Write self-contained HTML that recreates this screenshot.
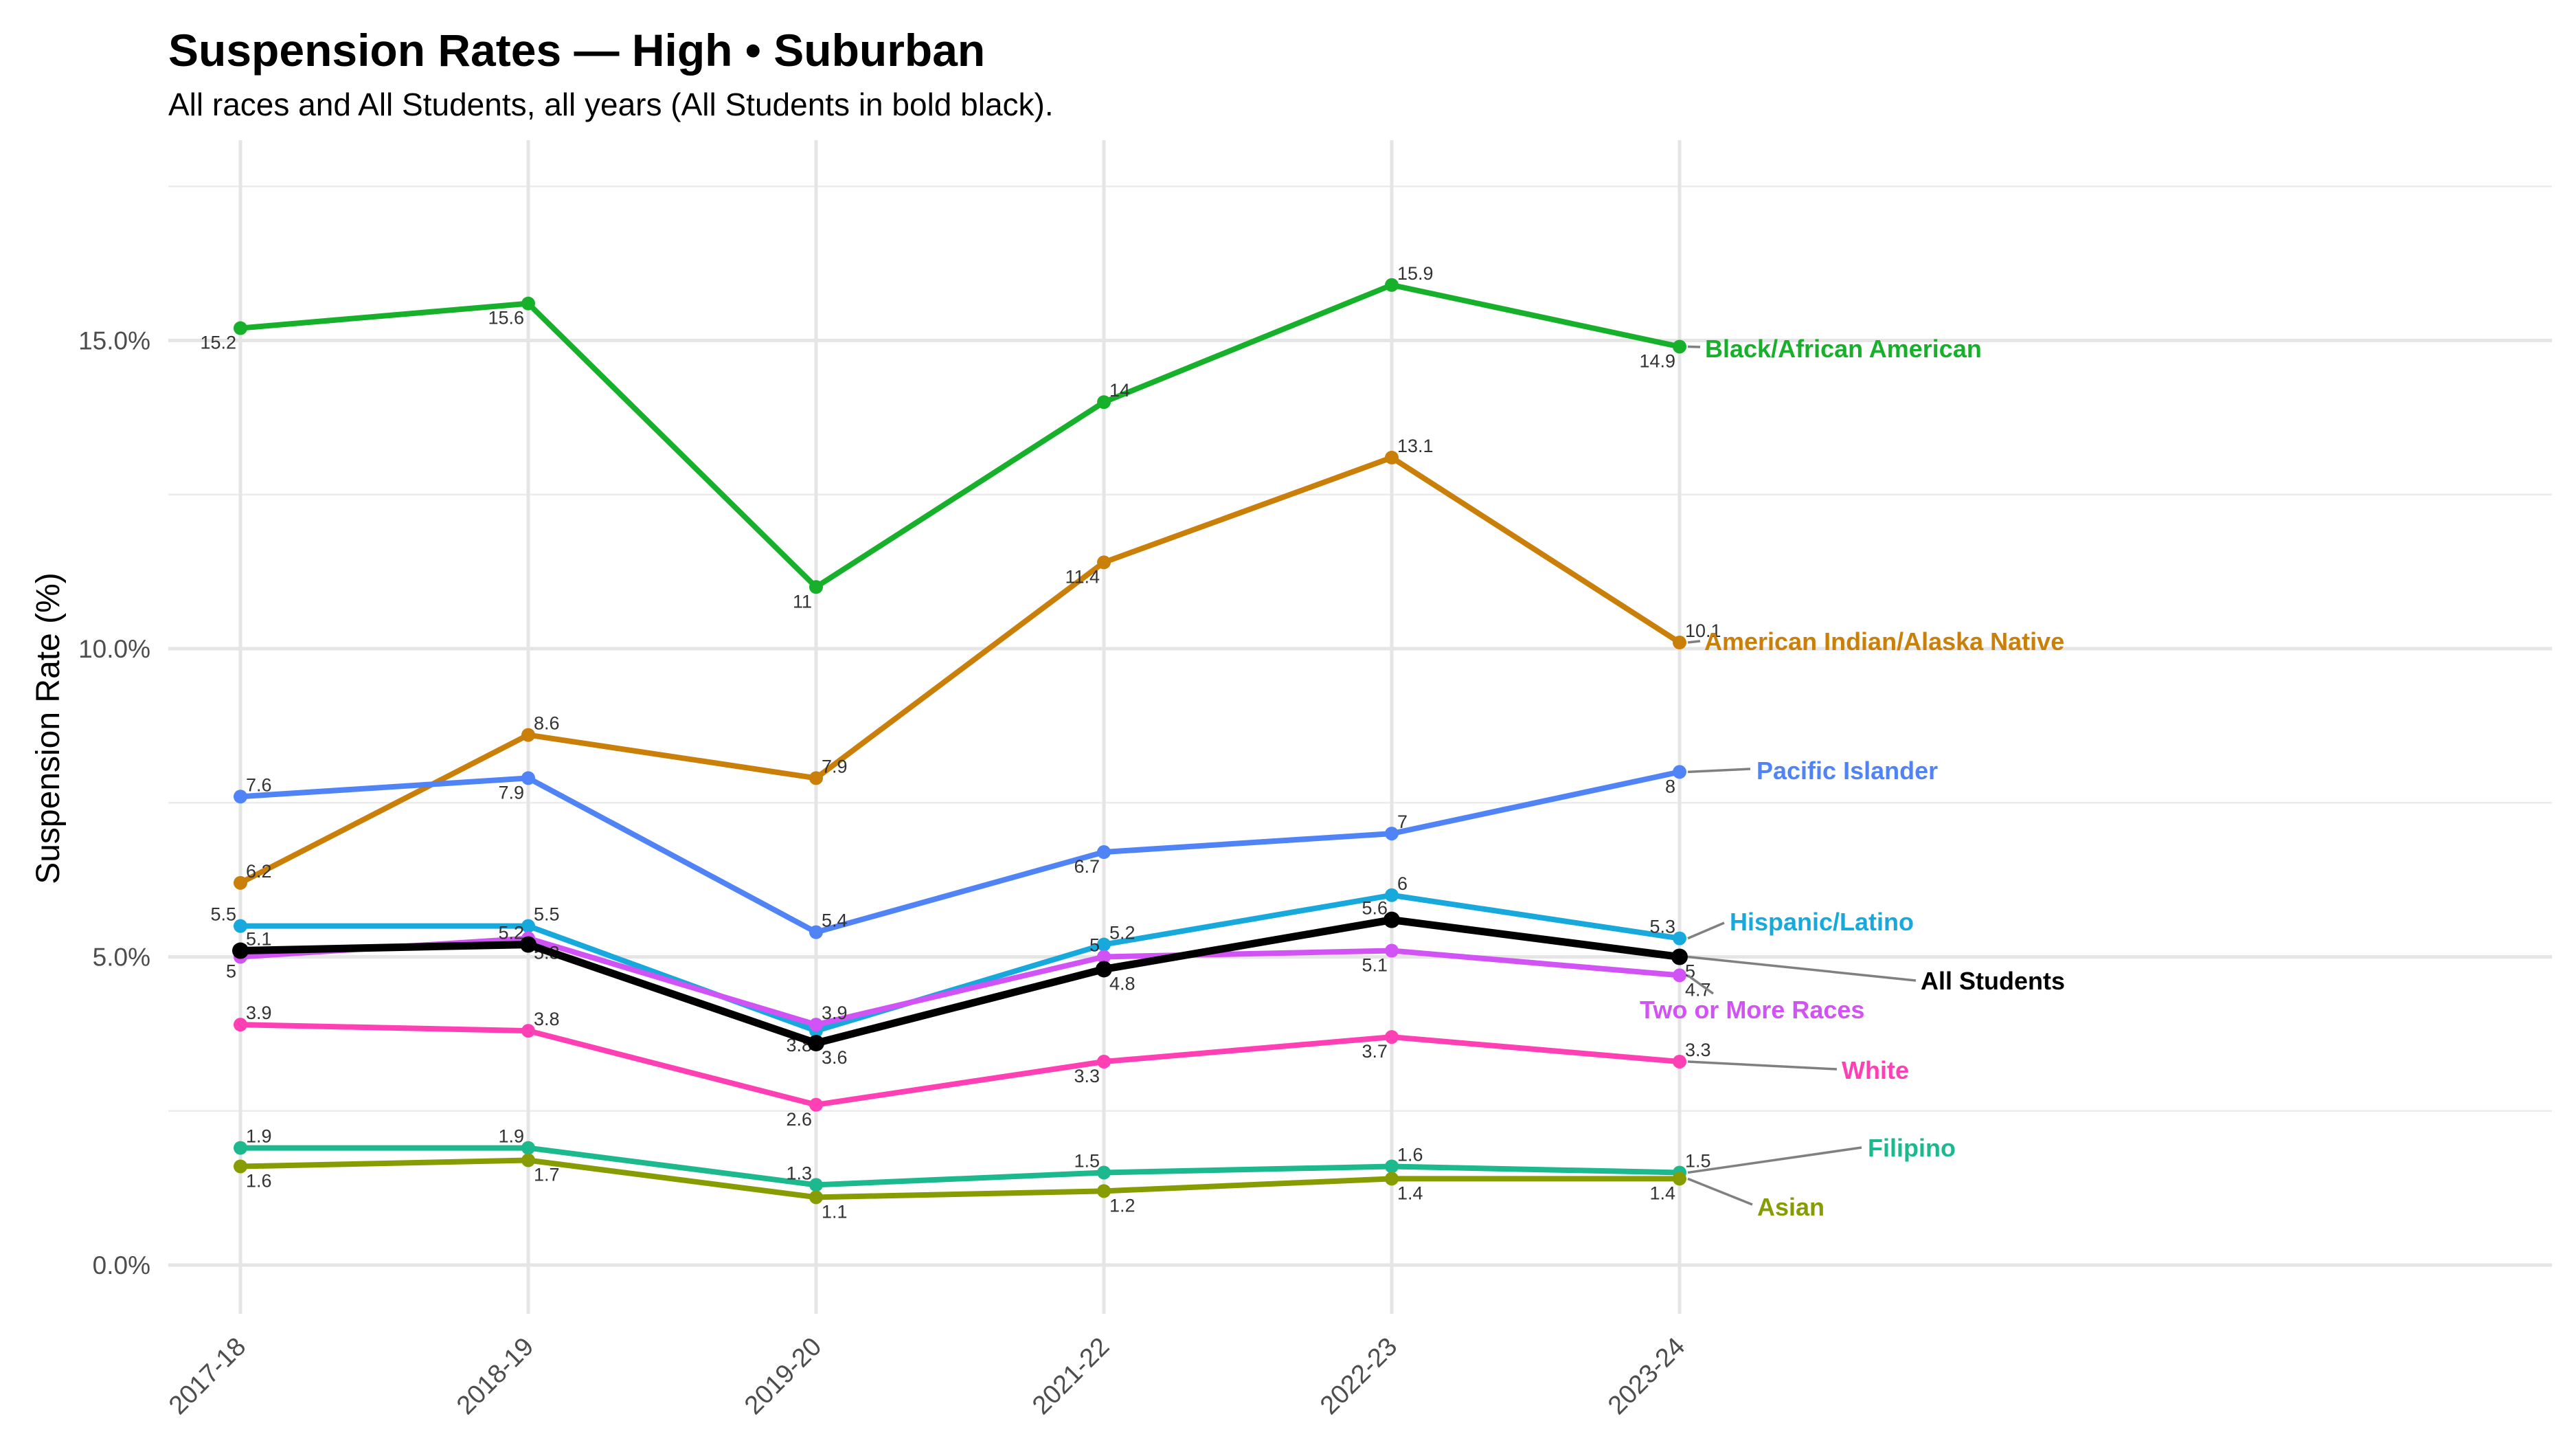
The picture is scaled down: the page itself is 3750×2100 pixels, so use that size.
<!DOCTYPE html>
<html><head><meta charset="utf-8">
<style>
html,body{margin:0;padding:0;background:#fff;}
svg{display:block;font-family:"Liberation Sans",Arial,sans-serif;}
</style></head>
<body>
<svg id="chart" width="3750" height="2100" viewBox="0 0 3750 2100" xmlns="http://www.w3.org/2000/svg">
<rect width="3750" height="2100" fill="#fff"/>
<text x="245" y="96" font-size="66" font-weight="bold" fill="#000">Suspension Rates — High • Suburban</text>
<text x="245" y="168" font-size="46" fill="#000">All races and All Students, all years (All Students in bold black).</text>
<text transform="translate(86,1060) rotate(-90)" text-anchor="middle" font-size="48" fill="#000">Suspension Rate (%)</text>
<g id="grid"></g><g id="axes"></g><g id="series"></g><g id="endlabels"></g>
</svg>
<script>
const years = ["2017-18","2018-19","2019-20","2021-22","2022-23","2023-24"];
const yTicks = [0,5,10,15];
const yTickLabels = ["0.0%","5.0%","10.0%","15.0%"];
const yMinor = [2.5,7.5,12.5,17.5];
const seriesNames = ["Black/African American","American Indian/Alaska Native","Pacific Islander","Hispanic/Latino","Two or More Races","White","Filipino","Asian","All Students"];
const seriesColors = ["#17B02B","#C97F08","#5083F5","#17A9DC","#D253F5","#FF3FB4","#1DB98E","#869C00","#000000"];
const black = [15.2,15.6,11,14,15.9,14.9];
const aian = [6.2,8.6,7.9,11.4,13.1,10.1];
const pacific = [7.6,7.9,5.4,6.7,7,8];
const hispanic = [5.5,5.5,3.8,5.2,6,5.3];
const twoOrMore = [5,5.3,3.9,5,5.1,4.7];
const white = [3.9,3.8,2.6,3.3,3.7,3.3];
const filipino = [1.9,1.9,1.3,1.5,1.6,1.5];
const asian = [1.6,1.7,1.1,1.2,1.4,1.4];
const allStudents = [5.1,5.2,3.6,4.8,5.6,5];
const seriesValues = [black,aian,pacific,hispanic,twoOrMore,white,filipino,asian,allStudents];
const labelSides = [
 ["bl","bl","bl","ar","ar","bl"],
 ["ar","ar","ar","bl","ar","ar"],
 ["ar","bl","ar","bl","ar","bl"],
 ["al","ar","bl","ar","ar","al"],
 ["bl","br","ar","al","bl","br"],
 ["ar","ar","bl","bl","bl","ar"],
 ["ar","al","al","al","ar","ar"],
 ["br","br","br","br","br","bl"],
 ["ar","al","br","br","al","br"]
];
const endLabelPos = [[2482,520],[2481,946],[2557,1134],[2518,1354],[2387,1482],[2681,1570],[2719,1683],[2558,1769],[2796,1440]];
const leaderEnd = [[2475,505],[2475,933],[2548,1119],[2510,1343],[2494,1446],[2674,1556],[2710,1670],[2551,1753],[2789,1427]];

const NS="http://www.w3.org/2000/svg";
const X0=350, XSTEP=419, Y0=1841, YPER=89.7;
const L=245, R=3715, T=204, B=1912;
const xs=i=>X0+XSTEP*i;
const ys=v=>Y0-YPER*v;
function mk(tag,attrs,parent,txt){const e=document.createElementNS(NS,tag);for(const k in attrs)e.setAttribute(k,attrs[k]);if(txt!==undefined)e.textContent=txt;parent.appendChild(e);return e;}
const grid=document.getElementById('grid'),axes=document.getElementById('axes'),ser=document.getElementById('series'),el=document.getElementById('endlabels');
yMinor.forEach(v=>{const g=mk('line',{x1:L,x2:R,y1:ys(v),y2:ys(v),stroke:'#ebebeb','stroke-width':2.5},grid);

});
yTicks.forEach((v,i)=>{const g=mk('line',{x1:L,x2:R,y1:ys(v),y2:ys(v),stroke:'#e5e5e5','stroke-width':5},grid);


const t=mk('text',{x:219,y:ys(v)+13,'text-anchor':'end','font-size':37,fill:'#4d4d4d'},axes,yTickLabels[i]);

});
years.forEach((y,i)=>{const g=mk('line',{x1:xs(i),x2:xs(i),y1:T,y2:B,stroke:'#e5e5e5','stroke-width':5},grid);


const t=mk('text',{transform:`translate(${xs(i)+10},${1962}) rotate(-45)`,'text-anchor':'end','font-size':38,fill:'#4d4d4d'},axes,y);

});
seriesNames.forEach((name,s)=>{
 const vals=seriesValues[s],col=seriesColors[s],isAll=s===8;
 const g=mk('g',{},ser);
 
 
 const p=mk('polyline',{points:vals.map((v,i)=>xs(i)+','+ys(v)).join(' '),fill:'none',stroke:col,'stroke-width':isAll?11:8,'stroke-linejoin':'round'},g);
 
 
 vals.forEach((v,i)=>{
  const c=mk('circle',{cx:xs(i),cy:ys(v),r:isAll?12:10,fill:col},g);
  
  
  const sd=labelSides[s][i];let x=xs(i),y=ys(v),a='start';
  if(sd[1]==='r'){x+=8}else{x-=6;a='end'}
  if(sd[0]==='a'){y-=8}else{y+=30}
  const t=mk('text',{x:x,y:y,'text-anchor':a,'font-size':27,fill:'#333'},g,String(v));
  
  
 });
 const lx=xs(5)+12,ly=ys(vals[5]);
 const ln=mk('line',{x1:lx,y1:ly,x2:leaderEnd[s][0],y2:leaderEnd[s][1],stroke:'#808080','stroke-width':3.5},el);
 
 
 const lt=mk('text',{x:endLabelPos[s][0],y:endLabelPos[s][1],'font-size':36,'font-weight':'bold',fill:col},el,name);
 
 
});
</script>
</body></html>
